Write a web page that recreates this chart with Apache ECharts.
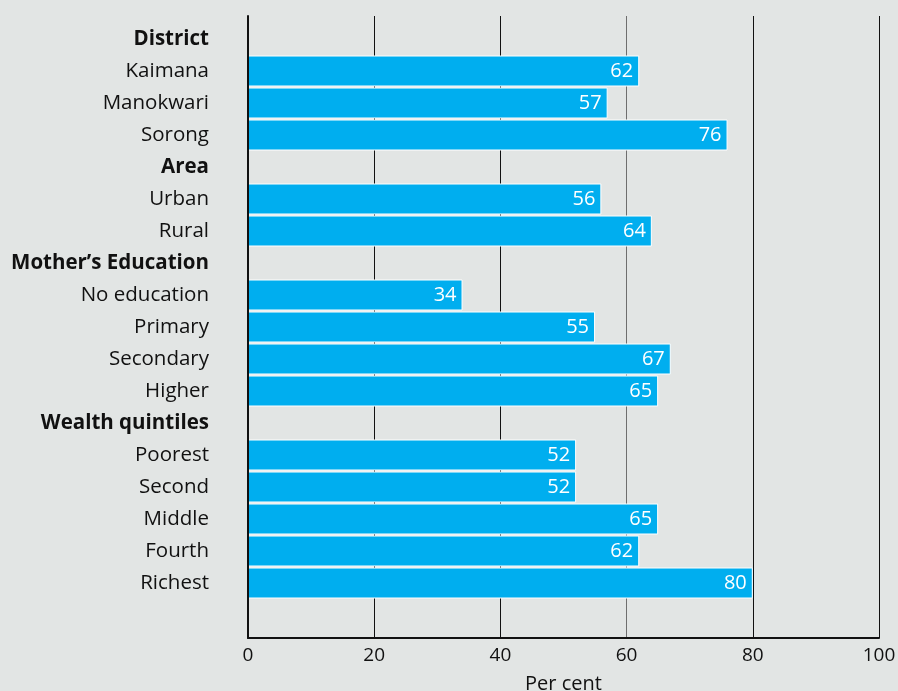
<!DOCTYPE html>
<html>
<head>
<meta charset="utf-8">
<script src="https://cdn.jsdelivr.net/npm/echarts@6/dist/echarts.min.js"></script>
<style>
  html, body { margin: 0; padding: 0; background: #e2e5e4; }
  #chart { width: 898px; height: 691px; }
</style>
</head>
<body>
<div id="chart"></div>
<script>
// Row labels, top to bottom; group headings have no bar
const categories = [
  'District', 'Kaimana', 'Manokwari', 'Sorong',
  'Area', 'Urban', 'Rural',
  'Mother\u2019s Education', 'No education', 'Primary', 'Secondary', 'Higher',
  'Wealth quintiles', 'Poorest', 'Second', 'Middle', 'Fourth', 'Richest'
];
const headings = ['District', 'Area', 'Mother\u2019s Education', 'Wealth quintiles'];
const values = [
  null, 62, 57, 76,
  null, 56, 64,
  null, 34, 55, 67, 65,
  null, 52, 52, 65, 62, 80
];
const xTicks = [0, 20, 40, 60, 80, 100];

const FONT = 'Open Sans';
const chart = echarts.init(document.getElementById('chart'));

chart.setOption({
  backgroundColor: '#e2e5e4',
  animation: false,
  grid: [
    // bars
    { left: 248, right: 19, top: 23, height: 576, outerBoundsMode: 'none', containLabel: false },
    // frame: gridlines and axes
    { left: 248, right: 19, top: 16, bottom: 53, outerBoundsMode: 'none', containLabel: false }
  ],
  xAxis: [
    {
      gridIndex: 0, type: 'value', min: xTicks[0], max: xTicks[xTicks.length - 1],
      show: false
    },
    {
      gridIndex: 1, type: 'value', min: xTicks[0], max: xTicks[xTicks.length - 1], interval: 20,
      name: 'Per cent', nameLocation: 'middle', nameGap: 36,
      nameTextStyle: { color: '#111', fontSize: 20, fontFamily: FONT },
      axisLine: { show: true, lineStyle: { color: '#111', width: 2 } },
      axisTick: { show: false },
      axisLabel: { color: '#111', fontSize: 19, fontFamily: FONT, margin: 8 },
      splitLine: { show: true, lineStyle: { color: ['#111', '#111', '#111', '#6e6e6e', '#111', '#111'], width: 1 } }
    }
  ],
  yAxis: [
    {
      gridIndex: 0, type: 'category', data: categories, inverse: true,
      axisLine: { show: false }, axisTick: { show: false }, splitLine: { show: false },
      axisLabel: {
        margin: 39, color: '#111', fontSize: 20.5, fontFamily: FONT,
        formatter: v => headings.includes(v) ? '{h|' + v + '}' : v,
        rich: { h: { fontWeight: 'bold', fontSize: 20.5, fontFamily: FONT, color: '#111' } }
      }
    },
    {
      gridIndex: 1, type: 'value', min: 0, max: 1, z: 5,
      axisLine: { show: true, onZero: false, lineStyle: { color: '#111', width: 2 } },
      axisTick: { show: false }, axisLabel: { show: false }, splitLine: { show: false }
    }
  ],
  series: [{
    type: 'bar',
    xAxisIndex: 0, yAxisIndex: 0,
    data: values,
    barWidth: 31,
    itemStyle: { color: '#00aeef', borderColor: '#ffffff', borderWidth: 1 },
    label: {
      show: true, position: 'insideRight', distance: 6,
      color: '#ffffff', fontSize: 20, fontFamily: FONT,
      formatter: p => p.value == null ? '' : String(p.value)
    }
  }]
});
</script>
</body>
</html>
